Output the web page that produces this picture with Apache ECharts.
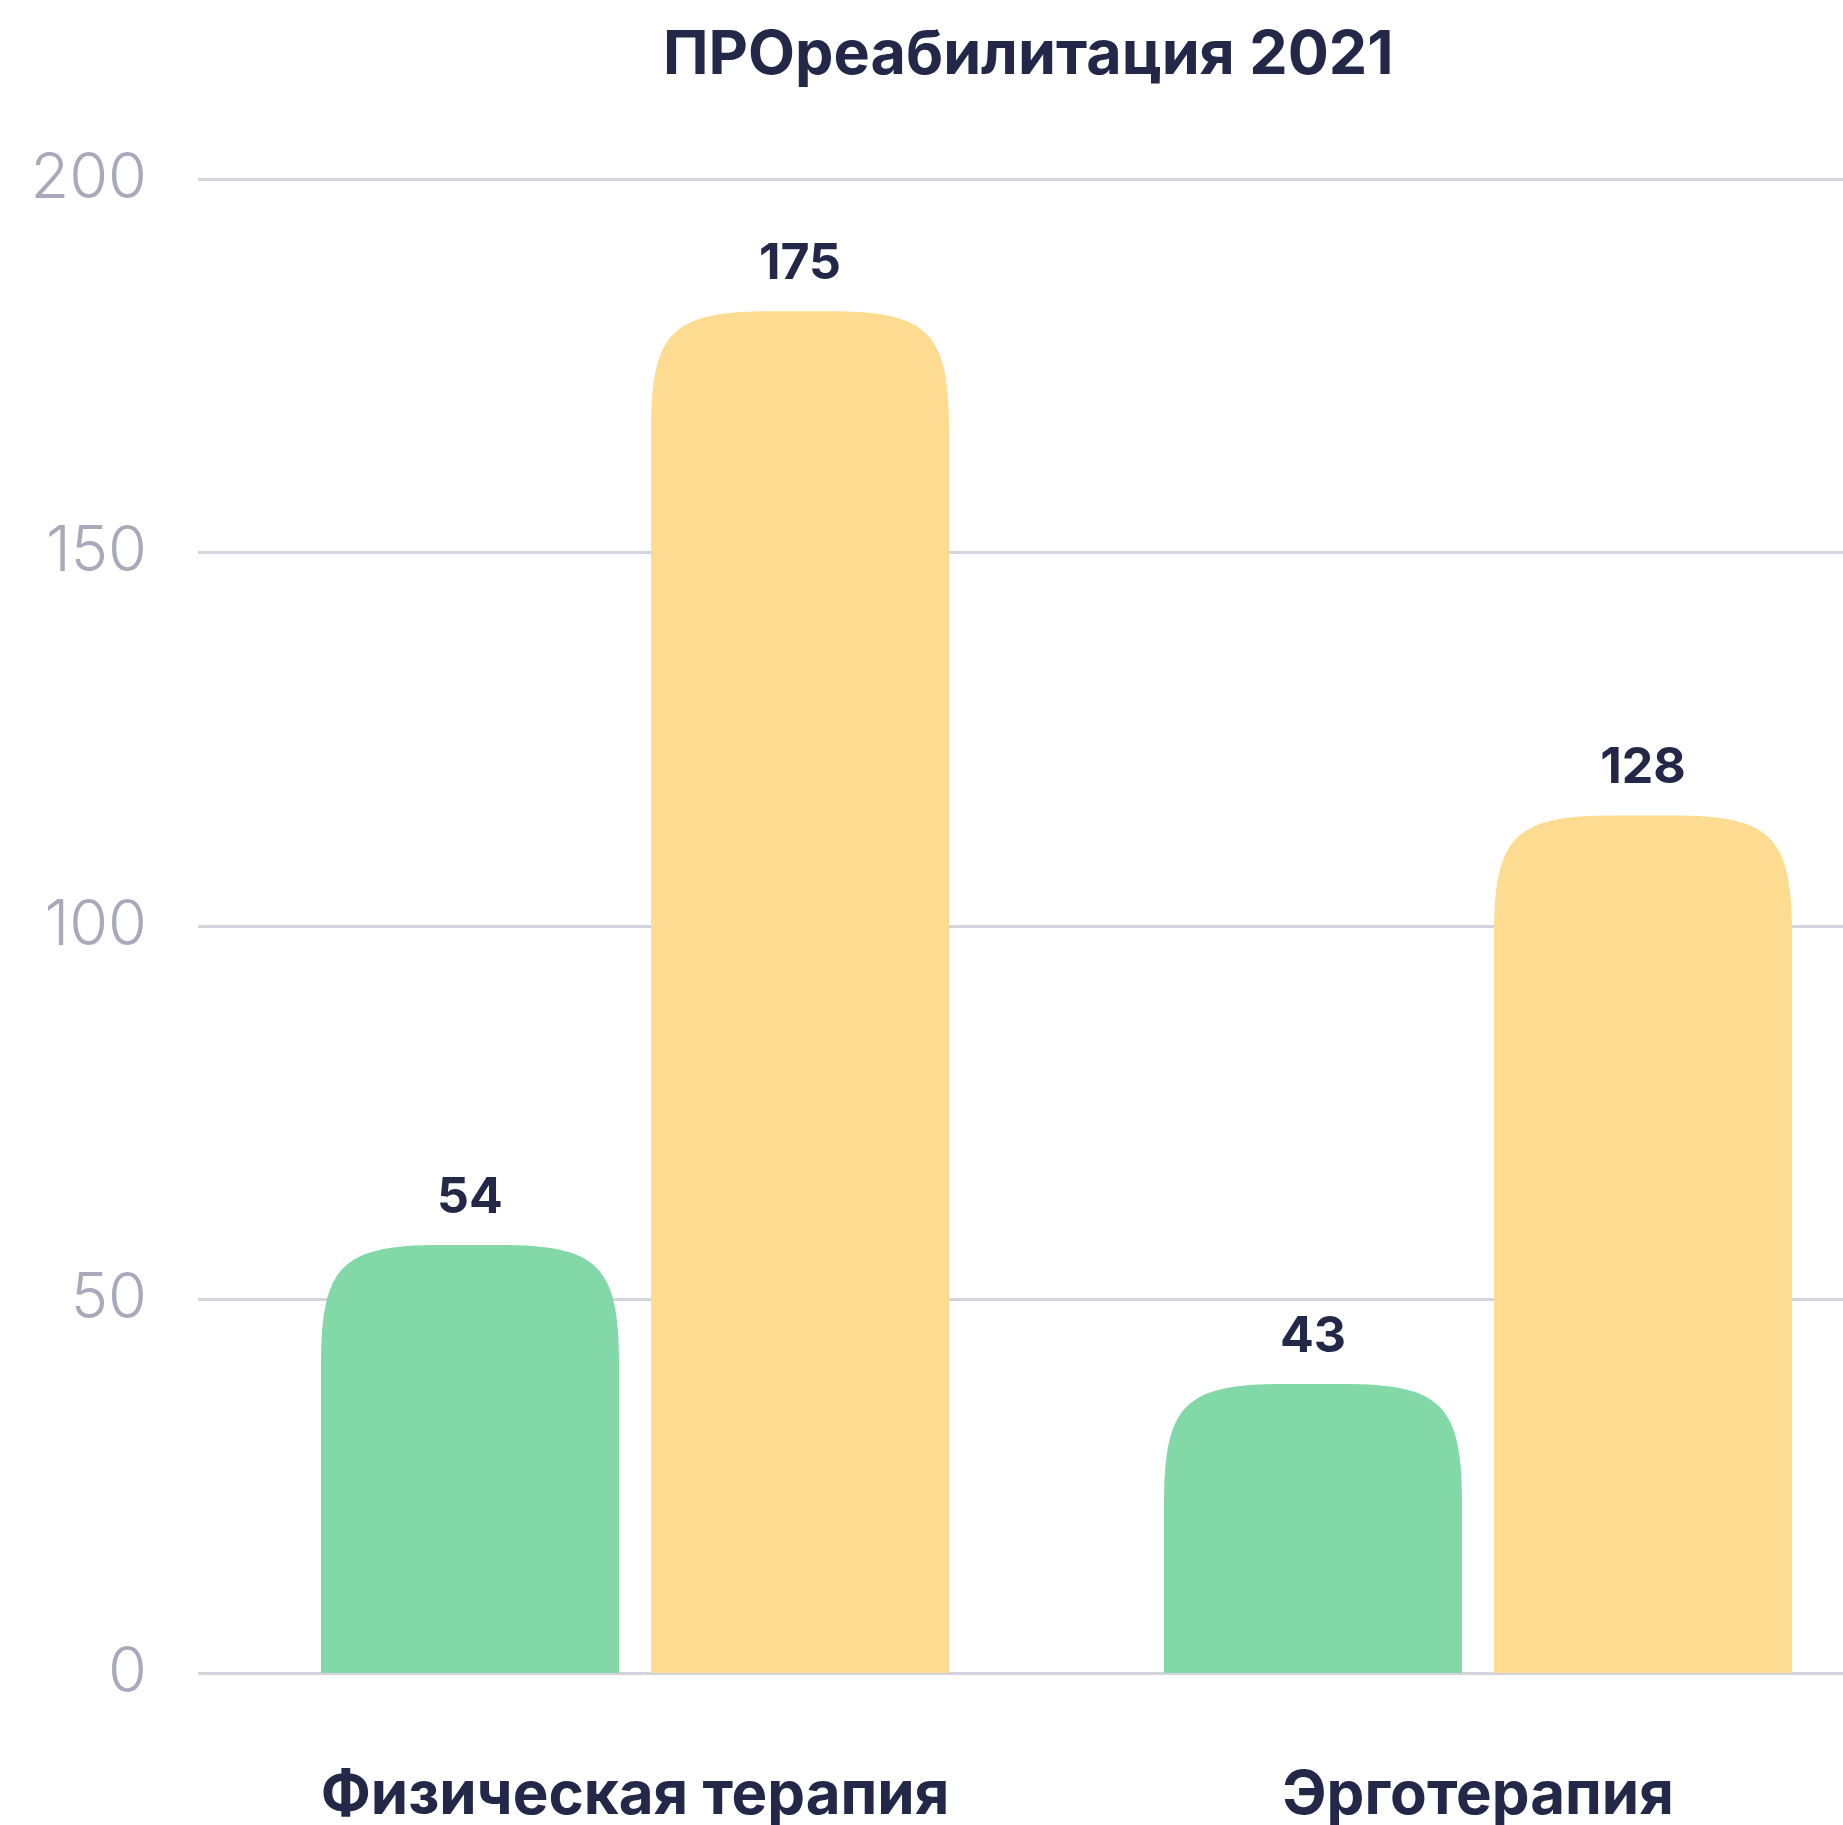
<!DOCTYPE html>
<html>
<head>
<meta charset="utf-8">
<script src="https://cdn.jsdelivr.net/npm/echarts@6/dist/echarts.min.js"></script>
<style>
  html, body { margin: 0; padding: 0; background: #fff; }
  #chart { width: 1843px; height: 1825px; }
</style>
</head>
<body>
<div id="chart"></div>
<script>
// values
const categories = ['Физическая терапия', 'Эрготерапия']
const greenValues = [57.3, 38.7]
const yellowValues = [182.3, 114.8]
// numbers printed above the bars
const greenLabels = ['54', '43']
const yellowLabels = ['175', '128']
const yMin = 0
const yMax = 200
const yStep = 50

const FONT = 'Inter, "Noto Sans", sans-serif'
const DARK = '#232849'
const BAR_W = 298
const BAR_GAP = 32

// rounded (squircle-ish) top bar, placed through the axes
function barRenderer(labels, offset, color) {
  return function (params, api) {
    const top = api.coord([api.value(0), api.value(1)])
    const base = api.coord([api.value(0), 0])
    const cx = top[0] + offset
    const x0 = cx - BAR_W / 2
    const x1 = cx + BAR_W / 2
    const y0 = top[1]
    const yb = base[1]
    const r = Math.min(120, BAR_W / 2, yb - y0)
    const c = r * 0.17
    const d = 'M' + x0 + ' ' + yb +
      ' L' + x0 + ' ' + (y0 + r) +
      ' C' + x0 + ' ' + (y0 + c) + ' ' + (x0 + c) + ' ' + y0 + ' ' + (x0 + r) + ' ' + y0 +
      ' L' + (x1 - r) + ' ' + y0 +
      ' C' + (x1 - c) + ' ' + y0 + ' ' + x1 + ' ' + (y0 + c) + ' ' + x1 + ' ' + (y0 + r) +
      ' L' + x1 + ' ' + yb + ' Z'
    return {
      type: 'group',
      children: [
        { type: 'path', shape: { pathData: d }, style: { fill: color } },
        {
          type: 'text',
          style: {
            text: labels[params.dataIndex],
            x: cx,
            y: y0 - 47,
            align: 'center',
            verticalAlign: 'middle',
            fontFamily: FONT,
            fontSize: 50,
            fontWeight: 700,
            fill: DARK
          }
        }
      ]
    }
  }
}

const chart = echarts.init(document.getElementById('chart'))
chart.setOption({
  backgroundColor: '#ffffff',
  animation: false,
  title: {
    text: 'ПРОреабилитация 2021',
    left: 663,
    top: 25,
    padding: 0,
    textStyle: { fontFamily: FONT, fontSize: 61, fontWeight: 700, color: DARK }
  },
  grid: [
    { left: 198, right: 0, top: 179, bottom: 152, containLabel: false, outerBoundsMode: 'none' },
    { left: 213.5, width: 1686, top: 179, bottom: 152, containLabel: false, outerBoundsMode: 'none' }
  ],
  xAxis: [
    { gridIndex: 0, type: 'value', show: false },
    {
      gridIndex: 1,
      type: 'category',
      data: categories,
      axisLine: { show: false },
      axisTick: { show: false },
      axisLabel: {
        interval: 0,
        margin: 123,
        verticalAlign: 'middle',
        fontFamily: FONT,
        fontSize: 60,
        fontWeight: 700,
        color: DARK
      }
    }
  ],
  yAxis: [
    {
      gridIndex: 0,
      type: 'value',
      min: yMin,
      max: yMax,
      interval: yStep,
      axisLine: { show: false },
      axisTick: { show: false },
      splitLine: { lineStyle: { color: '#d2d3dc', width: 3 } },
      axisLabel: {
        margin: 51,
        fontFamily: FONT,
        fontSize: 63,
        fontWeight: 300,
        color: '#a8aabb',
        padding: [12, 0, 0, 0]
      }
    },
    { gridIndex: 1, type: 'value', min: yMin, max: yMax, show: false }
  ],
  series: [
    {
      type: 'custom',
      xAxisIndex: 1,
      yAxisIndex: 1,
      renderItem: barRenderer(greenLabels, -(BAR_W + BAR_GAP) / 2, '#83d8a8'),
      encode: { x: 0, y: 1 },
      data: greenValues.map((v, i) => [i, v])
    },
    {
      type: 'custom',
      xAxisIndex: 1,
      yAxisIndex: 1,
      renderItem: barRenderer(yellowLabels, (BAR_W + BAR_GAP) / 2, '#fddc92'),
      encode: { x: 0, y: 1 },
      data: yellowValues.map((v, i) => [i, v])
    }
  ]
})
</script>
</body>
</html>
